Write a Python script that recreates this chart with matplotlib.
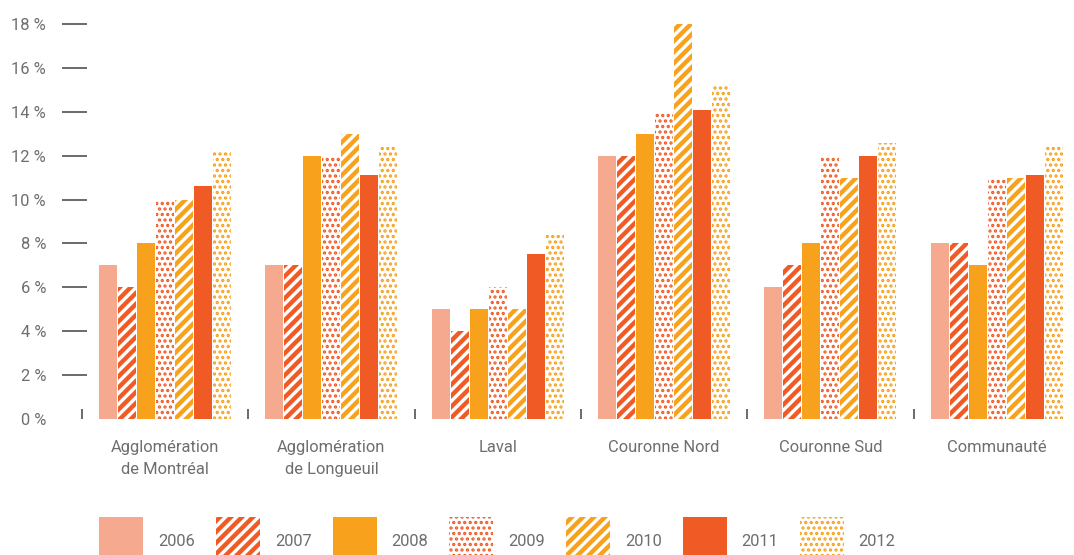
import matplotlib
matplotlib.use("Agg")
import matplotlib.pyplot as plt
import numpy as np

categories = ["Agglomération\nde Montréal", "Agglomération\nde Longueuil", "Laval",
              "Couronne Nord", "Couronne Sud", "Communauté"]
years = ["2006", "2007", "2008", "2009", "2010", "2011", "2012"]
v2006 = [7, 7, 5, 12, 6, 8]
v2007 = [6, 7, 4, 12, 7, 8]
v2008 = [8, 12, 5, 13, 8, 7]
v2009 = [10, 12, 6, 14, 12, 11]
v2010 = [10, 13, 5, 18, 11, 11]
v2011 = [10.6, 11.1, 7.5, 14.1, 12, 11.1]
v2012 = [12.2, 12.4, 8.4, 15.2, 12.6, 12.4]
yticks = [0, 2, 4, 6, 8, 10, 12, 14, 16, 18]
ytick_labels = [f"{t} %" for t in yticks]

series = [v2006, v2007, v2008, v2009, v2010, v2011, v2012]

PINK = "#F5A98F"
RED = "#F05A24"
ORANGE = "#F7A11D"
GRAY = "#6D6E71"

# (facecolor, edgecolor, hatch, hatch linewidth)
styles = [
    (PINK, PINK, None, 1.0),
    ("white", RED, "////", 2.4),
    (ORANGE, ORANGE, None, 1.0),
    ("white", RED, "....", 1.2),
    ("white", ORANGE, "////", 2.4),
    (RED, RED, None, 1.0),
    ("white", ORANGE, "....", 1.2),
]

DPI = 132
W, H = 1074, 555
plt.rcParams["font.family"] = ["Roboto", "DejaVu Sans"]
fig = plt.figure(figsize=(W / DPI, H / DPI), dpi=DPI)

group_px = 166.3
left_px = 82
bottom_px = 419
top_px = 24
ax = fig.add_axes([left_px / W, (H - bottom_px) / H,
                   6 * group_px / W, (bottom_px - top_px) / H])


def with_hatch_lw(artist, lw):
    orig = artist.draw

    def draw(renderer, *args, **kwargs):
        with plt.rc_context({"hatch.linewidth": lw}):
            return orig(renderer, *args, **kwargs)
    artist.draw = draw
    try:
        artist.set_hatch_linewidth(lw)
    except Exception:
        pass


x = np.arange(len(categories))
slot = 0.1142
bw = 0.1082
handles = []
for i, (vals, (fc, ec, hatch, hlw)) in enumerate(zip(series, styles)):
    plt.rcParams["hatch.linewidth"] = hlw
    offs = (i - 3) * slot
    bars = ax.bar(x + offs, vals, width=bw, color=fc, edgecolor=ec,
                  hatch=hatch, linewidth=0, label=years[i])
    for p in bars:
        with_hatch_lw(p, hlw)
    handles.append(bars)

ax.set_xlim(-0.5, 5.5)
ax.set_ylim(0, 18)

for s in ["top", "right", "bottom"]:
    ax.spines[s].set_visible(False)
ax.spines["left"].set_position(("axes", 5 / (6 * group_px)))
ax.spines["left"].set_visible(False)

pt = 72 / DPI
ax.set_yticks(yticks)
ax.set_yticklabels(ytick_labels)
ax.tick_params(axis="y", direction="out", length=25 * pt, width=2 * pt,
               color=GRAY, labelcolor=GRAY, labelsize=9, pad=16 * pt)
ax.yaxis.get_major_ticks()[0].tick1line.set_visible(False)

ax.set_xticks(x)
ax.set_xticklabels(categories, linespacing=1.6)
ax.set_xticks(np.arange(-0.5, 6.0, 1.0), minor=True)
ax.tick_params(axis="x", which="major", length=0, labelcolor=GRAY,
               labelsize=9, pad=11.5)
ax.tick_params(axis="x", which="minor", direction="in", length=10 * pt,
               width=2 * pt, color=GRAY)

fs = 9 / pt  # font size in px
hh_px = 68.7
descent = 0.35 * (hh_px - 0.7 * fs)
box_center_above_baseline = (hh_px - 2 * descent) / 2
baseline_px = 546.7 + 9
leg = fig.legend(handles=handles, labels=years, ncol=7, loc="center left",
                 bbox_to_anchor=(99 / W, (H - (baseline_px - box_center_above_baseline)) / H),
                 frameon=False,
                 fontsize=9, labelcolor=GRAY, handlelength=44 / fs,
                 handleheight=hh_px / fs, handletextpad=15 / fs,
                 columnspacing=21 / fs, borderpad=0, borderaxespad=0)
for lp, (fc, ec, hatch, hlw) in zip(leg.get_patches(), styles):
    with_hatch_lw(lp, hlw)

fig.savefig("out.png", dpi=DPI)
